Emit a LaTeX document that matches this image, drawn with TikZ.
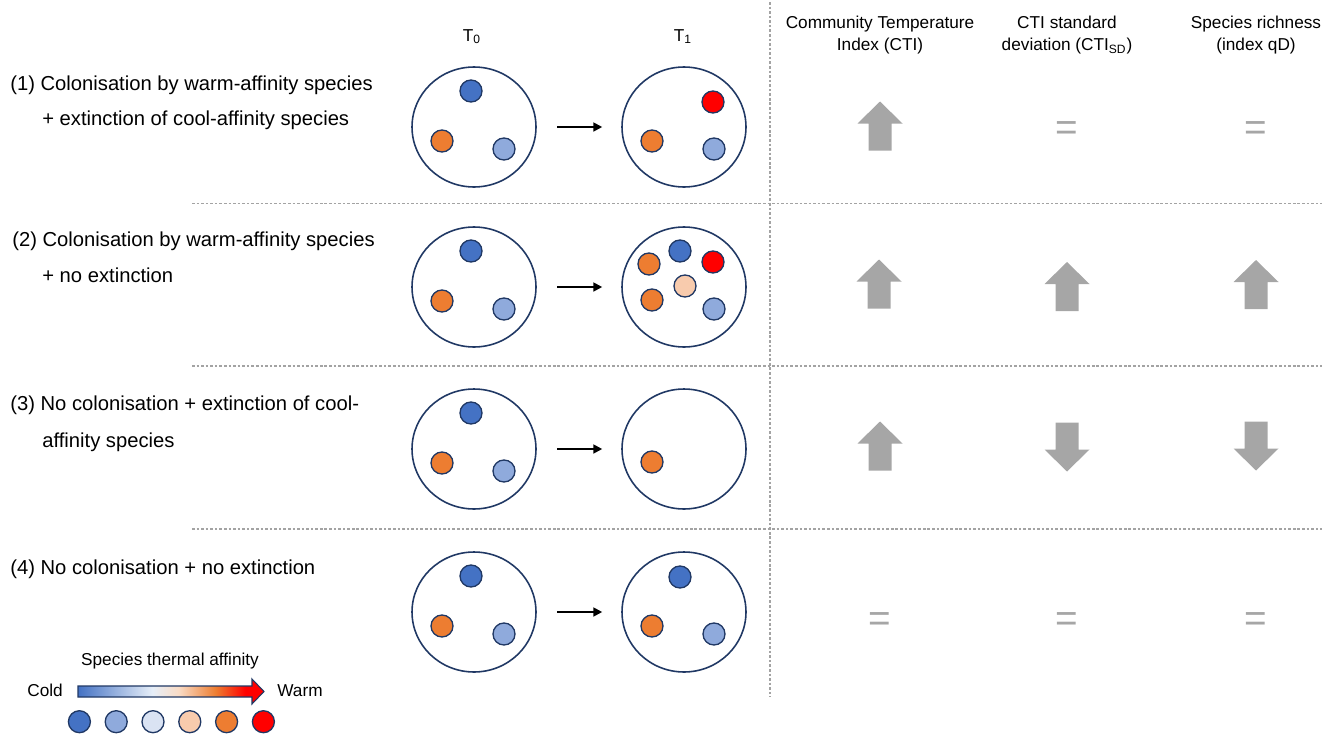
\documentclass[tikz,border=0pt]{standalone}
\usepackage{fontspec}
\setmainfont{Liberation Sans}
\usepackage{tikz}
\usetikzlibrary{arrows.meta, shapes.geometric, calc}
\definecolor{cold}{HTML}{4472C4}
\definecolor{cool}{HTML}{8FAADC}
\definecolor{pale}{HTML}{DAE3F3}
\definecolor{mild}{HTML}{F8CBAD}
\definecolor{warm}{HTML}{ED7D31}
\definecolor{hot}{HTML}{FF0000}
\definecolor{rim}{HTML}{203864}
\definecolor{ind}{HTML}{A6A6A6}
\definecolor{sep}{HTML}{A3A3A3}
\definecolor{thermmid}{HTML}{E6EEF8}
\definecolor{thermpeach}{HTML}{F9DCC6}
\pgfdeclarehorizontalshading{thermal}{100bp}{color(0bp)=(cold); color(25bp)=(cold); color(45bp)=(thermmid); color(52bp)=(thermpeach); color(62bp)=(warm); color(70bp)=(hot); color(100bp)=(hot)}

\begin{document}
\begin{tikzpicture}[x=0.02cm, y=-0.02cm,
    comm/.style={ellipse, draw=rim, line width=0.9pt, minimum width=2.48cm, minimum height=2.4cm, inner sep=0pt},
    spec/.style={circle, draw=rim, line width=0.75pt, minimum size=0.44cm, inner sep=0pt},
    timearrow/.style={-{Triangle[length=5pt,width=5pt]}, line width=1.1pt, shorten <=0.41cm, shorten >=0.38cm},
    rowtext/.style={anchor=base west, inner sep=0pt, font=\fontsize{11.5}{13}\selectfont},
    headtext/.style={anchor=north, align=center, inner sep=0pt, font=\fontsize{9.8}{12.5}\selectfont},
    legtext/.style={inner sep=0pt, font=\fontsize{9.8}{12}\selectfont},
    sameval/.style={text=ind, inner sep=0pt, font=\fontsize{22}{22}\selectfont},
    sepline/.style={sep, line width=0.6pt, dash pattern=on 1.5pt off 1.1pt},
    riseblk/.pic={\fill[ind] (0,-24.5) -- (22.5,-2.5) -- (11.5,-2.5) -- (11.5,24.5) -- (-11.5,24.5) -- (-11.5,-2.5) -- (-22.5,-2.5) -- cycle;},
    dropblk/.pic={\fill[ind] (0,24.5) -- (22.5,2.5) -- (11.5,2.5) -- (11.5,-24.5) -- (-11.5,-24.5) -- (-11.5,2.5) -- (-22.5,2.5) -- cycle;}]
  \useasboundingbox (0,0) rectangle (1322,737);

  % column heads
  \node[legtext, anchor=base] (t0) at (472,41) {T\textsubscript{0}};
  \node[legtext, anchor=base] (t1) at (683,41) {T\textsubscript{1}};
  \node[headtext] (hcti) at (880,16) {Community Temperature\\Index (CTI)};
  \node[headtext] (hsd) at (1067,16) {CTI standard\\deviation (CTI\textsubscript{SD})};
  \node[headtext] (hrich) at (1256,16) {Species richness\\(index qD)};

  % separators
  \draw[sepline] (770,2) -- (770,697);
  \draw[sepline] (192,203.3) -- (1322,203.3);
  \draw[sepline] (192,366) -- (1322,366);
  \draw[sepline] (192,529) -- (1322,529);

  % scenario texts
  \node[rowtext] (lab1a) at (10,90) {(1) Colonisation by warm-affinity species};
  \node[rowtext] (lab1b) at (42,125.5) {+ extinction of cool-affinity species};
  \node[rowtext] (lab2a) at (12,246) {(2) Colonisation by warm-affinity species};
  \node[rowtext] (lab2b) at (42,282) {+ no extinction};
  \node[rowtext] (lab3a) at (10,410) {(3) No colonisation + extinction of cool-};
  \node[rowtext] (lab3b) at (42,447) {affinity species};
  \node[rowtext] (lab4a) at (10,574) {(4) No colonisation + no extinction};

  % communities at T0 (same in every row)
  \foreach \r/\y in {1/127, 2/287, 3/449, 4/612} {
    \node[comm] (c\r a) at (474,\y) {};
    \node[spec, fill=cold] (s\r a1) at ($(c\r a)+(-3,-36)$) {};
    \node[spec, fill=warm] (s\r a2) at ($(c\r a)+(-32,14)$) {};
    \node[spec, fill=cool] (s\r a3) at ($(c\r a)+(30,22)$) {};
    \node[comm] (c\r b) at (684,\y) {};
    \draw[timearrow] (c\r a) -- (c\r b);
  }

  % communities at T1
  \node[spec, fill=hot] (s1b1) at ($(c1b)+(29,-25)$) {};
  \node[spec, fill=warm] (s1b2) at ($(c1b)+(-32,14)$) {};
  \node[spec, fill=cool] (s1b3) at ($(c1b)+(30,22)$) {};

  \node[spec, fill=warm] (s2b1) at ($(c2b)+(-35,-23)$) {};
  \node[spec, fill=cold] (s2b2) at ($(c2b)+(-4,-36)$) {};
  \node[spec, fill=hot] (s2b3) at ($(c2b)+(29,-25)$) {};
  \node[spec, fill=mild] (s2b4) at ($(c2b)+(1,-1)$) {};
  \node[spec, fill=warm] (s2b5) at ($(c2b)+(-32,13)$) {};
  \node[spec, fill=cool] (s2b6) at ($(c2b)+(30,22)$) {};

  \node[spec, fill=warm] (s3b1) at ($(c3b)+(-32,13)$) {};

  \node[spec, fill=cold] (s4b1) at ($(c4b)+(-4,-35)$) {};
  \node[spec, fill=warm] (s4b2) at ($(c4b)+(-32,14)$) {};
  \node[spec, fill=cool] (s4b3) at ($(c4b)+(30,22)$) {};

  % responses
  \pic at (880,126) {riseblk};
  \node[sameval] (eq1sd) at (1067,131) {=};
  \node[sameval] (eq1rich) at (1256,131) {=};

  \pic at (879,284) {riseblk};
  \pic at (1067,286.5) {riseblk};
  \pic at (1256,284.5) {riseblk};

  \pic at (880,446) {riseblk};
  \pic at (1067,447) {dropblk};
  \pic at (1256,446) {dropblk};

  \node[sameval] (eq4cti) at (880,622.5) {=};
  \node[sameval] (eq4sd) at (1067,622.5) {=};
  \node[sameval] (eq4rich) at (1256,622.5) {=};

  % legend
  \node[legtext, anchor=base] (legtitle) at (170,665) {Species thermal affinity};
  \node[legtext, anchor=base west] (legcold) at (27,696) {Cold};
  \node[legtext, anchor=base west] (legwarm) at (277,696) {Warm};
  \shadedraw[shading=thermal, draw=rim, line width=0.6pt] (78,686) -- (252,686) -- (252,679) -- (264,691.5) -- (252,704) -- (252,697) -- (78,697) -- cycle;
  \foreach \c [count=\i] in {cold, cool, pale, mild, warm, hot}
    \node[spec, fill=\c] (leg\i) at (42.6+36.8*\i,721.7) {};
\end{tikzpicture}
\end{document}
